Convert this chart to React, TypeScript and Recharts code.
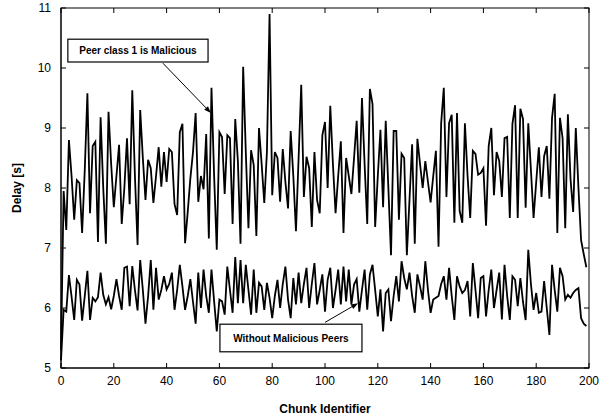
import React from 'react';
import { LineChart, Line, XAxis, YAxis, ReferenceLine, Label } from 'recharts';

const upperDelay: number[] = [
  5.3, 7.95, 7.3, 8.8, 8.2, 7.47, 8.13, 8.08, 7.25, 8.3,
  9.58, 7.58, 8.7, 8.77, 7.1, 9.18, 8.0, 7.07, 9.27, 8.4,
  7.68, 8.2, 8.72, 7.4, 8.0, 8.83, 7.73, 9.63, 8.2, 7.05,
  9.3, 8.5, 7.8, 8.47, 8.33, 7.75, 8.2, 8.68, 8.02, 8.6,
  8.1, 8.65, 8.6, 7.73, 7.55, 8.93, 9.07, 7.08, 7.6, 8.16,
  8.6, 9.25, 7.77, 8.2, 7.98, 8.9, 7.16, 9.67, 8.2, 6.97,
  8.93, 8.85, 7.9, 8.88, 8.83, 7.4, 9.15, 8.45, 7.07, 10.02,
  8.6, 7.33, 8.63, 8.38, 7.2, 9.0, 8.4, 7.75, 8.6, 10.9,
  7.88, 8.6, 8.5, 7.77, 8.65, 8.1, 7.66, 8.95, 8.2, 7.28,
  8.5, 9.72, 7.85, 8.52, 8.33, 7.35, 8.6, 7.8, 7.58, 8.88,
  9.1, 8.0, 9.37, 8.4, 7.58, 8.2, 8.78, 7.25, 8.5, 8.2,
  7.9, 8.5, 9.12, 7.92, 9.5, 8.4, 7.4, 9.65, 9.4, 7.35,
  8.2, 8.97, 7.68, 9.12, 8.0, 6.88, 8.95, 8.95, 7.47, 8.57,
  8.5, 6.88, 7.8, 8.73, 7.07, 8.82, 8.4, 8.0, 8.45, 8.1,
  7.76, 8.2, 8.62, 7.02, 9.08, 9.67, 7.85, 9.08, 9.22, 7.42,
  9.25, 7.62, 7.42, 9.08, 8.2, 7.5, 8.62, 8.57, 8.22, 8.25,
  8.33, 7.37, 8.7, 9.0, 7.88, 8.6, 8.45, 7.85, 8.83, 8.85,
  7.5, 9.07, 9.38, 7.5, 9.32, 9.15, 7.67, 9.08, 8.3, 7.5,
  8.1, 8.68, 7.85, 8.53, 8.7, 7.82, 9.17, 9.57, 7.25, 9.17,
  8.83, 7.33, 9.23, 8.15, 7.6, 9.0, 8.0, 7.13, 6.9, 6.68,
];

const lowerDelay: number[] = [
  5.13, 5.97, 5.94, 6.55, 6.19, 5.8, 6.47, 6.39, 5.79, 6.2,
  6.62, 5.8, 6.17, 6.11, 6.18, 6.59, 6.22, 6.06, 6.18, 5.98,
  6.2, 6.48, 6.2, 5.97, 6.67, 6.69, 6.03, 6.7, 6.3, 5.96,
  6.8, 6.3, 5.74, 6.2, 6.8, 5.97, 6.67, 6.14, 6.3, 6.53,
  6.31, 6.4, 6.59, 5.97, 6.3, 6.72, 6.36, 5.97, 6.2, 6.48,
  6.1, 5.74, 6.59, 6.0, 6.64, 6.2, 5.92, 6.64, 6.11, 5.61,
  6.14, 6.11, 5.89, 6.69, 6.3, 5.92, 6.85, 6.08, 6.8, 6.08,
  6.72, 6.3, 5.89, 6.64, 5.92, 6.42, 6.36, 5.97, 6.42, 6.17,
  5.83, 6.2, 6.47, 6.0, 6.4, 6.69, 6.14, 5.83, 6.5, 6.06,
  6.59, 6.08, 6.4, 6.67, 6.0, 6.4, 6.75, 6.06, 6.3, 6.56,
  5.94, 6.47, 6.67, 6.0, 6.3, 6.64, 6.06, 6.69, 6.11, 6.64,
  6.06, 6.39, 6.48, 5.94, 6.3, 6.64, 5.97, 6.56, 6.72, 6.3,
  5.86, 6.31, 5.61, 6.25, 6.31, 5.78, 6.2, 6.53, 6.11, 6.78,
  6.5, 6.31, 6.59, 6.2, 5.92, 6.56, 6.36, 6.14, 6.78, 6.3,
  5.92, 6.14, 6.17, 6.2, 6.4, 6.53, 6.14, 6.67, 6.2, 5.8,
  6.53, 6.36, 6.25, 6.3, 6.45, 5.86, 6.75, 6.3, 5.83, 6.5,
  6.53, 5.86, 6.3, 6.64, 6.0, 6.3, 6.59, 5.81, 6.72, 6.2,
  5.8, 6.53, 6.47, 6.03, 6.5, 6.1, 5.8, 6.97, 6.4, 5.97,
  6.25, 5.92, 5.94, 6.45, 6.0, 5.55, 6.72, 6.3, 5.94, 6.67,
  6.53, 6.14, 6.22, 6.17, 6.25, 6.3, 6.33, 5.83, 5.74, 5.7,
];

const xTicks = [0, 20, 40, 60, 80, 100, 120, 140, 160, 180, 200];
const yTicks = [5, 6, 7, 8, 9, 10, 11];

const upperLabel = 'Peer class 1 is Malicious';
const lowerLabel = 'Without Malicious Peers';

const data = upperDelay.map((u, i) => ({ chunk: i, upper: u, lower: lowerDelay[i] }));

const FONT = '"Liberation Sans", Arial, sans-serif';
const X_MIN = 0;
const X_MAX = 200;
const Y_MIN = 5;
const Y_MAX = 11;

// chart layout (shared by the chart and the frame overlay)
const W = 612;
const H = 419;
const MARGIN = { top: 8, right: 23, bottom: 0, left: 0 };
const Y_AXIS_W = 61;
const X_AXIS_H = 51;
const PLOT_L = MARGIN.left + Y_AXIS_W;
const PLOT_T = MARGIN.top;
const PLOT_W = W - PLOT_L - MARGIN.right;
const PLOT_H = H - PLOT_T - MARGIN.bottom - X_AXIS_H;
const TICK = 5;

const sx = (v: number) => PLOT_L + ((v - X_MIN) / (X_MAX - X_MIN)) * PLOT_W;
const sy = (v: number) => PLOT_T + PLOT_H - ((v - Y_MIN) / (Y_MAX - Y_MIN)) * PLOT_H;

const arrowShape = (props: any) => {
  const { x1, y1, x2, y2 } = props;
  const ang = Math.atan2(y2 - y1, x2 - x1);
  const len = 7;
  const half = 2.6;
  const bx = x2 - len * Math.cos(ang);
  const by = y2 - len * Math.sin(ang);
  const px = -Math.sin(ang) * half;
  const py = Math.cos(ang) * half;
  return (
    <g>
      <line x1={x1} y1={y1} x2={bx} y2={by} stroke="#000" strokeWidth={1} />
      <polygon points={`${x2},${y2} ${bx + px},${by + py} ${bx - px},${by - py}`} fill="#000" />
    </g>
  );
};

const boxShape = (text: string) => (props: any) => {
  const { x1, y1, x2, y2 } = props;
  const x = Math.min(x1, x2);
  const y = Math.min(y1, y2);
  const w = Math.abs(x2 - x1);
  const h = Math.abs(y2 - y1);
  return (
    <g>
      <rect x={x} y={y} width={w} height={h} fill="#fff" stroke="#000" strokeWidth={1.2} />
      <text x={x + w / 2} y={y + h / 2} dy="0.35em" textAnchor="middle" fill="#000" fontSize={10} fontWeight="bold" fontFamily={FONT}>
        {text}
      </text>
    </g>
  );
};

function Frame() {
  return (
    <svg width={W} height={H} style={{ position: 'absolute', left: 0, top: 0, pointerEvents: 'none' }}>
      <rect x={PLOT_L} y={PLOT_T} width={PLOT_W} height={PLOT_H} fill="none" stroke="#000" strokeWidth={1} />
      {xTicks.map((t) => (
        <g key={`x${t}`}>
          <line x1={sx(t)} y1={PLOT_T + PLOT_H} x2={sx(t)} y2={PLOT_T + PLOT_H - TICK} stroke="#000" strokeWidth={1} />
          <line x1={sx(t)} y1={PLOT_T} x2={sx(t)} y2={PLOT_T + TICK} stroke="#000" strokeWidth={1} />
        </g>
      ))}
      {yTicks.map((t) => (
        <g key={`y${t}`}>
          <line x1={PLOT_L} y1={sy(t)} x2={PLOT_L + TICK} y2={sy(t)} stroke="#000" strokeWidth={1} />
          <line x1={PLOT_L + PLOT_W} y1={sy(t)} x2={PLOT_L + PLOT_W - TICK} y2={sy(t)} stroke="#000" strokeWidth={1} />
        </g>
      ))}
    </svg>
  );
}

export default function App() {
  return (
    <div style={{ position: 'absolute', left: 0, top: 0, width: W, height: H, background: '#fff' }}>
      <LineChart width={W} height={H} data={data} margin={MARGIN}>
        <XAxis
          dataKey="chunk"
          type="number"
          domain={[X_MIN, X_MAX]}
          ticks={xTicks}
          height={X_AXIS_H}
          stroke="#000"
          tickSize={0}
          tickMargin={8}
          tick={{ fill: '#000', fontSize: 12, fontFamily: FONT }}
        >
          <Label value="Chunk Identifier" position="insideBottom" offset={6} fill="#000" fontSize={12} fontWeight="bold" fontFamily={FONT} />
        </XAxis>
        <YAxis
          type="number"
          domain={[Y_MIN, Y_MAX]}
          ticks={yTicks}
          width={Y_AXIS_W}
          stroke="#000"
          tickSize={0}
          tickMargin={10}
          tick={{ fill: '#000', fontSize: 12, fontFamily: FONT }}
        >
          <Label value="Delay [s]" angle={-90} position="insideLeft" offset={17} fill="#000" fontSize={12} fontWeight="bold" fontFamily={FONT} style={{ textAnchor: 'middle' }} />
        </YAxis>
        <Line dataKey="upper" stroke="#000" strokeWidth={1.8} dot={false} isAnimationActive={false} />
        <Line dataKey="lower" stroke="#000" strokeWidth={1.8} dot={false} isAnimationActive={false} />
        <ReferenceLine segment={[{ x: 38.6, y: 10.08 }, { x: 56.8, y: 9.25 }]} shape={arrowShape} />
        <ReferenceLine segment={[{ x: 100, y: 5.76 }, { x: 112.5, y: 6.08 }]} shape={arrowShape} />
        <ReferenceLine segment={[{ x: 2.6, y: 10.48 }, { x: 55.7, y: 10.1 }]} shape={boxShape(upperLabel)} />
        <ReferenceLine segment={[{ x: 60.2, y: 5.73 }, { x: 114, y: 5.27 }]} shape={boxShape(lowerLabel)} />
      </LineChart>
      <Frame />
    </div>
  );
}
